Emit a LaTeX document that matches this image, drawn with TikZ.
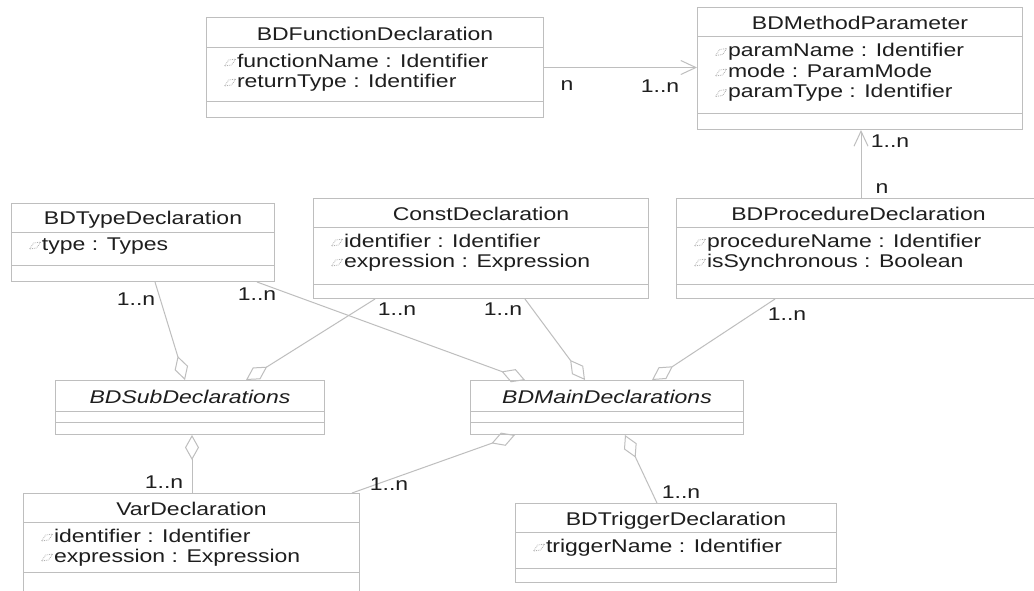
\documentclass[tikz,border=0pt]{standalone}
\usepackage{fontspec}
\setmainfont{Liberation Sans}[FakeStretch=1.25]
\usetikzlibrary{arrows.meta}
\definecolor{umlgrey}{RGB}{190,190,190}
\definecolor{umltext}{RGB}{30,30,30}
\definecolor{icongrey}{RGB}{175,175,175}
\newcommand{\attricon}{\tikz[baseline=0pt]\draw[icongrey,densely dotted,line width=0.8pt] (0pt,1pt) -- (4pt,7pt) -- (11pt,8pt) -- (7pt,2pt) -- cycle;\hspace{1pt}}

\begin{document}
\begin{tikzpicture}[x=1pt,y=-1pt,
    font=\fontsize{18.4pt}{20pt}\selectfont,text=umltext,
    classbox/.style={draw=umlgrey,line width=1pt,anchor=north west,inner sep=0pt},
    classname/.style={anchor=base,inner sep=0pt},
    attrline/.style={anchor=base west,inner sep=0pt,execute at begin node=\attricon},
    divider/.style={draw=umlgrey,line width=1pt},
    mult/.style={inner sep=0pt},
    agg/.style={draw=umlgrey,line width=1pt,-{Diamond[open,length=25pt,width=14pt]}},
    nav/.style={draw=umlgrey,line width=1pt,-{Straight Barb[length=15pt,width=14pt]}}]
  \useasboundingbox (0,0) rectangle (1034,590);
  \fill[white] (0,0) rectangle (1034,590);
  \clip (0,0) rectangle (1034,590);

  % BDFunctionDeclaration:
  \node[classbox,minimum width=337pt,minimum height=100pt] (fdecl) at (206,17) {};
  \node[classname] (fdeclT) at ([yshift=-23pt]fdecl.north) {BDFunctionDeclaration};
  \draw[divider] ([yshift=-30pt]fdecl.north west) -- ([yshift=-30pt]fdecl.north east);
  \draw[divider] ([yshift=17pt]fdecl.south west) -- ([yshift=17pt]fdecl.south east);
  \foreach \a [count=\i] in {functionName : Identifier, returnType : Identifier}
     \node[attrline] (fdecl-a\i) at ([xshift=18pt,yshift={-30-20*\i}]fdecl.north west) {\a};

  % BDMethodParameter:
  \node[classbox,minimum width=325pt,minimum height=122pt] (mparam) at (697,7) {};
  \node[classname] (mparamT) at ([yshift=-22pt]mparam.north) {BDMethodParameter};
  \draw[divider] ([yshift=-29pt]mparam.north west) -- ([yshift=-29pt]mparam.north east);
  \draw[divider] ([yshift=17pt]mparam.south west) -- ([yshift=17pt]mparam.south east);
  \foreach \a [count=\i] in {paramName : Identifier, mode : ParamMode, paramType : Identifier}
     \node[attrline] (mparam-a\i) at ([xshift=18pt,yshift={-29-20.5*\i}]mparam.north west) {\a};

  % BDTypeDeclaration:
  \node[classbox,minimum width=263pt,minimum height=78pt] (tdecl) at (11,203) {};
  \node[classname] (tdeclT) at ([yshift=-21pt]tdecl.north) {BDTypeDeclaration};
  \draw[divider] ([yshift=-29pt]tdecl.north west) -- ([yshift=-29pt]tdecl.north east);
  \draw[divider] ([yshift=17pt]tdecl.south west) -- ([yshift=17pt]tdecl.south east);
  \node[attrline] (tdecl-a1) at ([xshift=18pt,yshift=-47pt]tdecl.north west) {type : Types};

  % ConstDeclaration:
  \node[classbox,minimum width=335pt,minimum height=100pt] (cdecl) at (313,198) {};
  \node[classname] (cdeclT) at ([yshift=-22pt]cdecl.north) {ConstDeclaration};
  \draw[divider] ([yshift=-29pt]cdecl.north west) -- ([yshift=-29pt]cdecl.north east);
  \draw[divider] ([yshift=15pt]cdecl.south west) -- ([yshift=15pt]cdecl.south east);
  \foreach \a [count=\i] in {identifier : Identifier, expression : Expression}
     \node[attrline] (cdecl-a\i) at ([xshift=18pt,yshift={-29-20*\i}]cdecl.north west) {\a};

  % BDProcedureDeclaration:
  \node[classbox,minimum width=364pt,minimum height=100pt] (pdecl) at (676,198) {};
  \node[classname] (pdeclT) at ([yshift=-22pt]pdecl.north) {BDProcedureDeclaration};
  \draw[divider] ([yshift=-29pt]pdecl.north west) -- ([yshift=-29pt]pdecl.north east);
  \draw[divider] ([yshift=15pt]pdecl.south west) -- ([yshift=15pt]pdecl.south east);
  \foreach \a [count=\i] in {procedureName : Identifier, isSynchronous : Boolean}
     \node[attrline] (pdecl-a\i) at ([xshift=18pt,yshift={-29-20*\i}]pdecl.north west) {\a};

  % BDSubDeclarations:
  \node[classbox,minimum width=269pt,minimum height=54pt] (sub) at (55,380) {};
  \node[classname] (subT) at ([yshift=-23pt]sub.north) {\itshape BDSubDeclarations};
  \draw[divider] ([yshift=-31pt]sub.north west) -- ([yshift=-31pt]sub.north east);
  \draw[divider] ([yshift=13pt]sub.south west) -- ([yshift=13pt]sub.south east);

  % BDMainDeclarations:
  \node[classbox,minimum width=273pt,minimum height=54pt] (main) at (470,380) {};
  \node[classname] (mainT) at ([yshift=-23pt]main.north) {\itshape BDMainDeclarations};
  \draw[divider] ([yshift=-31pt]main.north west) -- ([yshift=-31pt]main.north east);
  \draw[divider] ([yshift=13pt]main.south west) -- ([yshift=13pt]main.south east);

  % VarDeclaration:
  \node[classbox,minimum width=336pt,minimum height=110pt] (vdecl) at (23,493) {};
  \node[classname] (vdeclT) at ([yshift=-22pt]vdecl.north) {VarDeclaration};
  \draw[divider] ([yshift=-29pt]vdecl.north west) -- ([yshift=-29pt]vdecl.north east);
  \draw[divider] ([yshift=-79pt]vdecl.north west) -- ([yshift=-79pt]vdecl.north east);
  \foreach \a [count=\i] in {identifier : Identifier, expression : Expression}
     \node[attrline] (vdecl-a\i) at ([xshift=18pt,yshift={-29-20*\i}]vdecl.north west) {\a};

  % BDTriggerDeclaration:
  \node[classbox,minimum width=321pt,minimum height=79pt] (trig) at (515,503) {};
  \node[classname] (trigT) at ([yshift=-22pt]trig.north) {BDTriggerDeclaration};
  \draw[divider] ([yshift=-29pt]trig.north west) -- ([yshift=-29pt]trig.north east);
  \draw[divider] ([yshift=15pt]trig.south west) -- ([yshift=15pt]trig.south east);
  \node[attrline] (trig-a1) at ([xshift=18pt,yshift=-49pt]trig.north west) {triggerName : Identifier};

  % navigable associations:
  \draw[nav] (fdecl.east) -- (fdecl.east -| mparam.west);
  \draw[nav] ([xshift=185pt]pdecl.north west) -- ([xshift=164pt]mparam.south west);

  % aggregations:
  \draw[agg] ([xshift=144pt]tdecl.south west) -- ([xshift=130pt]sub.north west);
  \draw[agg] ([xshift=62pt]cdecl.south west) -- ([xshift=191pt]sub.north west);
  \draw[agg] ([xshift=246pt]tdecl.south west) -- ([xshift=55pt]main.north west);
  \draw[agg] ([xshift=212pt]cdecl.south west) -- ([xshift=115pt]main.north west);
  \draw[agg] ([xshift=99pt]pdecl.south west) -- ([xshift=182pt]main.north west);
  \draw[agg] ([xshift=169pt]vdecl.north west) -- ([xshift=137pt]sub.south west);
  \draw[agg] ([xshift=329pt]vdecl.north west) -- ([xshift=45pt]main.south west);
  \draw[agg] ([xshift=142pt]trig.north west) -- ([xshift=155pt]main.south west);

  % multiplicities:
  \node[mult] (m1) at (567,86) {n};
  \node[mult] (m2) at (660,86) {1..n};
  \node[mult] (m3) at (890,141) {1..n};
  \node[mult] (m4) at (882,189) {n};
  \node[mult] (m5) at (136,299) {1..n};
  \node[mult] (m6) at (257,294) {1..n};
  \node[mult] (m7) at (397,309) {1..n};
  \node[mult] (m8) at (503,309) {1..n};
  \node[mult] (m9) at (787,314) {1..n};
  \node[mult] (m10) at (164,482) {1..n};
  \node[mult] (m11) at (389,484) {1..n};
  \node[mult] (m12) at (681,492) {1..n};
\end{tikzpicture}
\end{document}
